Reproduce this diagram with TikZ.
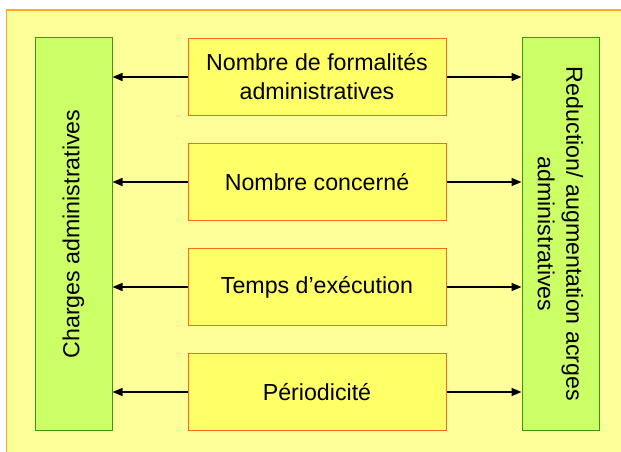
\documentclass[tikz,border=0pt]{standalone}
\usepackage{fontspec}
\setmainfont{Liberation Sans}
\usetikzlibrary{arrows.meta}
\definecolor{bgyellow}{HTML}{FFFF99}
\definecolor{bgborder}{HTML}{FFAA22}
\definecolor{boxyellow}{HTML}{FFFF66}
\definecolor{boxborder}{HTML}{FF6622}
\definecolor{boxgreen}{HTML}{CCFF66}
\definecolor{greenborder}{HTML}{339911}
\tikzset{
  itembox/.style={draw=boxborder, fill=boxyellow, line width=1pt, minimum width=258pt, minimum height=77pt, inner sep=0pt, align=center, font=\fontsize{23.2}{29}\selectfont},
  sidebox/.style={draw=greenborder, fill=boxgreen, line width=1pt, minimum width=77pt, minimum height=392pt, inner sep=0pt},
  sidetext/.style={align=center, font=\fontsize{23.2}{28.5}\selectfont, inner sep=0pt},
  conn/.style={line width=1.5pt, -{Triangle[length=10pt,width=8pt]}}
}
\begin{document}
\begin{tikzpicture}[x=1pt,y=-1pt]
\useasboundingbox (0,0) rectangle (621,452);
\fill[bgyellow] (6.5,10) rectangle (630,460);
\draw[bgborder, line width=1.5pt] (6.5,460) -- (6.5,10) -- (630,10);
\node[sidebox] (L) at (73.5,234) {};
\node[sidebox] (R) at (560.5,234) {};
\node[sidetext, rotate=90] (Lt) at (L.center) {Charges administratives};
\node[sidetext, rotate=-90] (Rt) at (R.center) {Reduction/ augmentation acrges\\administratives};
\node[itembox] (a) at (317,77) {Nombre de formalités\\administratives};
\node[itembox] (b) at (317,182) {Nombre concerné};
\node[itembox] (c) at (317,287) {Temps d’exécution};
\node[itembox] (d) at (317,392) {Périodicité};
\foreach \n in {a,b,c,d}{
  \draw[conn] (\n.west) -- (\n.west -| L.east);
  \draw[conn] (\n.east) -- (\n.east -| R.west);
}
\end{tikzpicture}
\end{document}
